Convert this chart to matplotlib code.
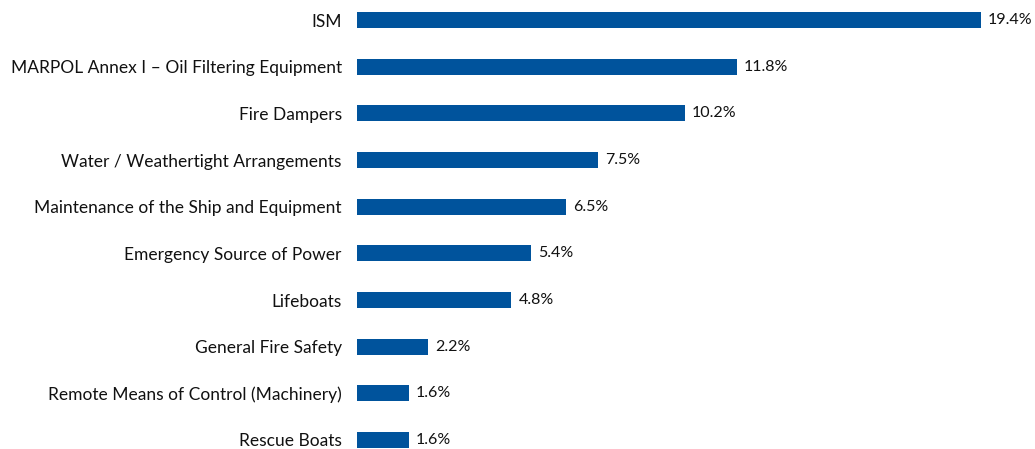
import numpy as np
import matplotlib.pyplot as plt

categories = [
    "ISM",
    "MARPOL Annex I \u2013 Oil Filtering Equipment",
    "Fire Dampers",
    "Water / Weathertight Arrangements",
    "Maintenance of the Ship and Equipment",
    "Emergency Source of Power",
    "Lifeboats",
    "General Fire Safety",
    "Remote Means of Control (Machinery)",
    "Rescue Boats",
]
shares = [19.4, 11.8, 10.2, 7.5, 6.5, 5.4, 4.8, 2.2, 1.6, 1.6]

plt.rcParams['font.family'] = ['Lato', 'DejaVu Sans']

fig = plt.figure(figsize=(10.35, 4.49), dpi=100)
ax = fig.add_axes([0.345, 0.0, 0.655, 1.0])

y = np.arange(len(categories))
ax.barh(y, shares, height=0.34, color='#00539c')

for yi, v in zip(y, shares):
    ax.text(v + 0.22, yi, f"{v:.1f}%", va='center', ha='left', fontsize=11.5, color='#111111')

ax.set_xlim(0, 21.08)
ax.set_ylim(9.193, -0.429)
ax.set_yticks(y)
ax.set_yticklabels(categories, fontsize=12.5, color='#111111')
ax.tick_params(axis='y', length=0, pad=11)
ax.set_xticks([])
for s in ax.spines.values():
    s.set_visible(False)

fig.savefig('out.png', dpi=100)
